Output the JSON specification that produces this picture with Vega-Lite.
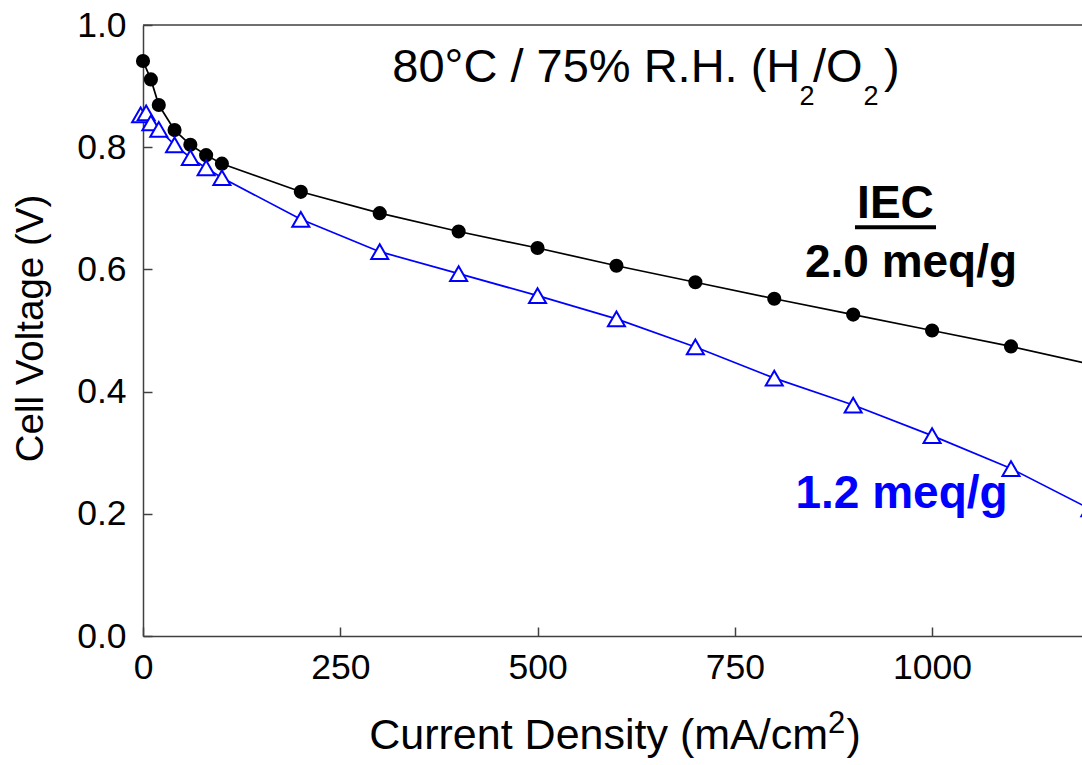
{
  "$schema": "https://vega.github.io/schema/vega-lite/v6.json",
  "width": 939,
  "height": 611,
  "autosize": {"type": "none"},
  "padding": {"left": 143, "top": 25, "right": 0, "bottom": 129},
  "background": "#ffffff",
  "config": {
    "font": "Liberation Sans",
    "view": {"stroke": null},
    "axis": {
      "grid": false,
      "domainColor": "#404040",
      "domainWidth": 1.5,
      "tickColor": "#404040",
      "tickWidth": 1.5,
      "labelColor": "#000000",
      "labelFont": "Liberation Sans",
      "titleFont": "Liberation Sans",
      "titleColor": "#000000",
      "titleFontWeight": "normal",
      "labelFontSize": 35.5
    }
  },
  "datasets": {
    "curves": [
      {"iec": "2.0 meq/g", "current": 0, "voltage": 0.941},
      {"iec": "2.0 meq/g", "current": 10, "voltage": 0.911},
      {"iec": "2.0 meq/g", "current": 20, "voltage": 0.869},
      {"iec": "2.0 meq/g", "current": 40, "voltage": 0.828},
      {"iec": "2.0 meq/g", "current": 60, "voltage": 0.804},
      {"iec": "2.0 meq/g", "current": 80, "voltage": 0.787},
      {"iec": "2.0 meq/g", "current": 100, "voltage": 0.773},
      {"iec": "2.0 meq/g", "current": 200, "voltage": 0.727},
      {"iec": "2.0 meq/g", "current": 300, "voltage": 0.692},
      {"iec": "2.0 meq/g", "current": 400, "voltage": 0.662},
      {"iec": "2.0 meq/g", "current": 500, "voltage": 0.635},
      {"iec": "2.0 meq/g", "current": 600, "voltage": 0.606},
      {"iec": "2.0 meq/g", "current": 700, "voltage": 0.579},
      {"iec": "2.0 meq/g", "current": 800, "voltage": 0.552},
      {"iec": "2.0 meq/g", "current": 900, "voltage": 0.526},
      {"iec": "2.0 meq/g", "current": 1000, "voltage": 0.500},
      {"iec": "2.0 meq/g", "current": 1100, "voltage": 0.474},
      {"iec": "2.0 meq/g", "current": 1200, "voltage": 0.445},
      {"iec": "1.2 meq/g", "current": -3, "voltage": 0.853},
      {"iec": "1.2 meq/g", "current": 4, "voltage": 0.856},
      {"iec": "1.2 meq/g", "current": 10, "voltage": 0.840},
      {"iec": "1.2 meq/g", "current": 20, "voltage": 0.829},
      {"iec": "1.2 meq/g", "current": 40, "voltage": 0.804},
      {"iec": "1.2 meq/g", "current": 60, "voltage": 0.783},
      {"iec": "1.2 meq/g", "current": 80, "voltage": 0.766},
      {"iec": "1.2 meq/g", "current": 100, "voltage": 0.750},
      {"iec": "1.2 meq/g", "current": 200, "voltage": 0.682},
      {"iec": "1.2 meq/g", "current": 300, "voltage": 0.629},
      {"iec": "1.2 meq/g", "current": 400, "voltage": 0.593},
      {"iec": "1.2 meq/g", "current": 500, "voltage": 0.557},
      {"iec": "1.2 meq/g", "current": 600, "voltage": 0.519},
      {"iec": "1.2 meq/g", "current": 700, "voltage": 0.473},
      {"iec": "1.2 meq/g", "current": 800, "voltage": 0.422},
      {"iec": "1.2 meq/g", "current": 900, "voltage": 0.378},
      {"iec": "1.2 meq/g", "current": 1000, "voltage": 0.328},
      {"iec": "1.2 meq/g", "current": 1100, "voltage": 0.274},
      {"iec": "1.2 meq/g", "current": 1200, "voltage": 0.208}
    ]
  },
  "layer": [
    {
      "data": {"name": "curves"},
      "mark": {"type": "line", "strokeWidth": 1.7},
      "encoding": {
        "x": {
          "field": "current", "type": "quantitative",
          "scale": {"domain": [0, 1190], "nice": false, "zero": false},
          "axis": {
            "title": null,
            "values": [0, 250, 500, 750, 1000],
            "format": "d",
            "tickSize": -9,
            "labelPadding": 23,
            "labelFlush": false,
            "labelOverlap": false
          }
        },
        "y": {
          "field": "voltage", "type": "quantitative",
          "scale": {"domain": [0, 1], "nice": false, "zero": false},
          "axis": {
            "title": "Cell Voltage (V)",
            "titleFontSize": 38.5,
            "titleAngle": -90,
            "titleX": -101,
            "titleY": 303,
            "titleAlign": "center",
            "titleBaseline": "alphabetic",
            "values": [0, 0.2, 0.4, 0.6, 0.8, 1.0],
            "format": ".1f",
            "tickSize": -9,
            "labelPadding": 26,
            "labelFlush": false,
            "labelOverlap": false
          }
        },
        "color": {
          "field": "iec", "type": "nominal",
          "scale": {"domain": ["2.0 meq/g", "1.2 meq/g"], "range": ["#000000", "#0000ff"]},
          "legend": null
        }
      }
    },
    {
      "data": {"name": "curves"},
      "transform": [{"filter": "datum.iec === '2.0 meq/g'"}],
      "mark": {"type": "point", "shape": "circle", "filled": true, "size": 200, "color": "#000000", "opacity": 1},
      "encoding": {
        "x": {"field": "current", "type": "quantitative"},
        "y": {"field": "voltage", "type": "quantitative"}
      }
    },
    {
      "data": {"name": "curves"},
      "transform": [{"filter": "datum.iec === '1.2 meq/g'"}],
      "mark": {"type": "point", "shape": "triangle-up", "fill": "#ffffff", "stroke": "#0000ff", "strokeWidth": 2, "size": 290, "opacity": 1, "fillOpacity": 1},
      "encoding": {
        "x": {"field": "current", "type": "quantitative"},
        "y": {"field": "voltage", "type": "quantitative"}
      }
    },
    {
      "data": {"values": [{"edge": "top"}]},
      "mark": {"type": "rule", "color": "#404040", "strokeWidth": 1.5},
      "encoding": {"y": {"datum": 1}}
    },
    {
      "data": {"values": [{"t": "80°C / 75% R.H. (H"}]},
      "mark": {"type": "text", "fontSize": 47, "align": "right", "baseline": "alphabetic", "color": "#000000"},
      "encoding": {"x": {"datum": 833}, "y": {"datum": 0.9064}, "text": {"field": "t"}}
    },
    {
      "data": {"values": [{"t": "2"}]},
      "mark": {"type": "text", "fontSize": 27, "align": "left", "baseline": "alphabetic", "color": "#000000"},
      "encoding": {"x": {"datum": 831.9}, "y": {"datum": 0.869}, "text": {"field": "t"}}
    },
    {
      "data": {"values": [{"t": "/O"}]},
      "mark": {"type": "text", "fontSize": 47, "align": "left", "baseline": "alphabetic", "color": "#000000"},
      "encoding": {"x": {"datum": 849.1}, "y": {"datum": 0.9064}, "text": {"field": "t"}}
    },
    {
      "data": {"values": [{"t": "2"}]},
      "mark": {"type": "text", "fontSize": 27, "align": "left", "baseline": "alphabetic", "color": "#000000"},
      "encoding": {"x": {"datum": 913}, "y": {"datum": 0.869}, "text": {"field": "t"}}
    },
    {
      "data": {"values": [{"t": ")"}]},
      "mark": {"type": "text", "fontSize": 47, "align": "left", "baseline": "alphabetic", "color": "#000000"},
      "encoding": {"x": {"datum": 939.1}, "y": {"datum": 0.9064}, "text": {"field": "t"}}
    },
    {
      "data": {"values": [{"t": "IEC"}]},
      "mark": {"type": "text", "fontSize": 46, "fontWeight": "bold", "align": "center", "baseline": "alphabetic", "color": "#000000"},
      "encoding": {"x": {"datum": 953.6}, "y": {"datum": 0.6838}, "text": {"field": "t"}}
    },
    {
      "data": {"values": [{"from": 902.3, "to": 1005}]},
      "mark": {"type": "rule", "color": "#000000", "strokeWidth": 4},
      "encoding": {
        "x": {"field": "from", "type": "quantitative"},
        "x2": {"field": "to"},
        "y": {"datum": 0.669}
      }
    },
    {
      "data": {"values": [{"t": "2.0 meq/g"}]},
      "mark": {"type": "text", "fontSize": 46, "fontWeight": "bold", "align": "center", "baseline": "alphabetic", "color": "#000000"},
      "encoding": {"x": {"datum": 973.3}, "y": {"datum": 0.588}, "text": {"field": "t"}}
    },
    {
      "data": {"values": [{"t": "1.2 meq/g"}]},
      "mark": {"type": "text", "fontSize": 46, "fontWeight": "bold", "align": "center", "baseline": "alphabetic", "color": "#0000ff"},
      "encoding": {"x": {"datum": 961.3}, "y": {"datum": 0.2097}, "text": {"field": "t"}}
    },
    {
      "data": {"values": [{"t": "Current Density (mA/cm"}]},
      "mark": {"type": "text", "fontSize": 43, "align": "right", "baseline": "alphabetic", "color": "#000000"},
      "encoding": {"x": {"datum": 868.1}, "y": {"datum": -0.1853}, "text": {"field": "t"}}
    },
    {
      "data": {"values": [{"t": "2"}]},
      "mark": {"type": "text", "fontSize": 31, "align": "left", "baseline": "alphabetic", "color": "#000000"},
      "encoding": {"x": {"datum": 868.1}, "y": {"datum": -0.1594}, "text": {"field": "t"}}
    },
    {
      "data": {"values": [{"t": ")"}]},
      "mark": {"type": "text", "fontSize": 43, "align": "left", "baseline": "alphabetic", "color": "#000000"},
      "encoding": {"x": {"datum": 891.5}, "y": {"datum": -0.1853}, "text": {"field": "t"}}
    }
  ]
}
